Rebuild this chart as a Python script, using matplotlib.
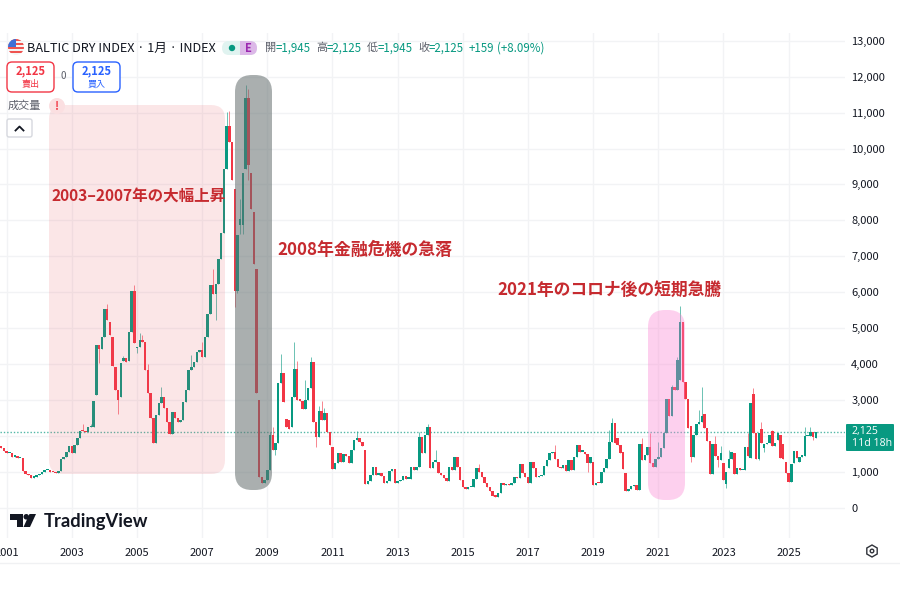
import matplotlib
matplotlib.use('Agg')
import matplotlib.pyplot as plt
from matplotlib.patches import FancyBboxPatch, Circle, Polygon, Rectangle, RegularPolygon
from matplotlib.transforms import IdentityTransform

plt.rcParams['font.family'] = ['Noto Sans CJK JP', 'DejaVu Sans']

# monthly closes of the Baltic Dry Index, Nov 2000 to Nov 2025
closes_2000 = [1657, 1583]
closes_2001 = [1518, 1518, 1425, 1444, 1379, 1379, 1036, 934, 915, 841, 869, 915]
closes_2002 = [943, 1008, 1054, 1054, 1008, 989, 961, 1026, 1351, 1425, 1564, 1722]
closes_2003 = [1518, 1750, 1935, 2139, 2130, 2111, 2240, 2259, 2982, 4530, 4410, 4744]
closes_2004 = [5532, 5226, 4809, 3946, 3279, 3001, 4039, 4178, 4067, 4901, 6050, 4577]
closes_2005 = [4465, 4670, 4623, 3835, 3205, 2510, 1796, 2584, 2908, 3094, 2769, 2398]
closes_2006 = [2055, 2676, 2491, 2380, 2445, 2936, 3279, 3835, 3909, 4067, 4326, 4391]
closes_2007 = [4206, 4762, 5393, 6215, 5965, 6243, 6938, 7662, 9441, 10618, 10183, 9117]
closes_2008 = [6030, 7587, 8051, 9330, 11407, 9553, 8310, 6800, 3186, 869, 702, 775]
closes_2009 = [1054, 2031, 1611, 1796, 3465, 3743, 2955, 2259, 2185, 3094, 3863, 3001]
closes_2010 = [2982, 2744, 3001, 3344, 4067, 2380, 1981, 2695, 2445, 2649, 2120, 1750]
closes_2011 = [1082, 1258, 1536, 1280, 1490, 1440, 1258, 1611, 1889, 1935, 1840, 1722]
closes_2012 = [665, 749, 915, 1147, 915, 985, 888, 702, 750, 1027, 1075, 700]
closes_2013 = [749, 765, 895, 820, 820, 1147, 1050, 1130, 1981, 1518, 2030, 2260]
closes_2014 = [1100, 1285, 1285, 960, 915, 824, 749, 1148, 1055, 1426, 1129, 777]
closes_2015 = [573, 518, 573, 573, 805, 1120, 1009, 870, 685, 573, 471, 332]
closes_2016 = [314, 406, 685, 638, 666, 638, 703, 851, 823, 1222, 963, 870]
closes_2017 = [685, 1287, 1102, 851, 888, 916, 1166, 1333, 1519, 1565, 1352, 1148]
closes_2018 = [1102, 1194, 1037, 1333, 1055, 1426, 1751, 1565, 1565, 1491, 1241, 1408]
closes_2019 = [638, 688, 685, 1009, 1102, 1352, 1843, 2372, 1797, 1750, 1519, 1074]
closes_2020 = [470, 526, 609, 628, 498, 1777, 1332, 1471, 1703, 1258, 1147, 1351]
closes_2021 = [1407, 1657, 2074, 3029, 2565, 3353, 3279, 4113, 5179, 3511, 3029, 2213]
closes_2022 = [1406, 2028, 2333, 2398, 2556, 2213, 1870, 943, 1777, 1453, 1332, 1518]
closes_2023 = [776, 990, 1351, 1564, 943, 1101, 1054, 1054, 1703, 1444, 2908, 2092]
closes_2024 = [1351, 2092, 1796, 1777, 1796, 2028, 1731, 1796, 2074, 1379, 1360, 980]
closes_2025 = [730, 1212, 1583, 1379, 1425, 1444, 2000, 2000, 2120, 1966, 2125]

# months whose open is not the previous close
open_gaps = {
    (2003, 10): 3131, (2004, 3): 5179, (2004, 4): 4744, (2004, 5): 3909, (2004, 7): 3094,
    (2004, 8): 4085, (2004, 10): 4095, (2005, 1): 4438, (2008, 1): 8867, (2008, 3): 7866,
    (2008, 4): 7866, (2008, 5): 9423, (2008, 7): 9330, (2008, 8): 8236, (2008, 9): 6660,
    (2008, 10): 3001, (2009, 8): 2473, (2009, 9): 2445, (2009, 10): 2260, (2011, 1): 1685,
    (2012, 1): 1611, (2019, 1): 1268, (2019, 10): 1936, (2019, 12): 1565, (2020, 1): 962,
    (2021, 9): 3557, (2022, 1): 2278, (2022, 2): 1425, (2022, 6): 2612, (2022, 8): 1861,
    (2023, 1): 1240, (2023, 2): 665, (2023, 3): 1101, (2023, 5): 1536, (2023, 11): 1379,
    (2023, 12): 3168, (2024, 3): 2185, (2024, 4): 1675, (2024, 7): 2148, (2024, 9): 1889,
    (2024, 10): 2028, (2024, 11): 1777, (2024, 12): 1268, (2025, 3): 1240, (2025, 5): 1268,
    (2025, 11): 1945,
}
wick_highs = {
    (2003, 5): 2333, (2003, 8): 2324, (2004, 2): 5671, (2004, 8): 4225, (2004, 12): 6208,
    (2005, 2): 4855, (2005, 3): 4809, (2005, 5): 3999, (2005, 10): 3353, (2006, 9): 4252,
    (2007, 1): 4623, (2007, 5): 6660, (2007, 10): 11017, (2007, 11): 11039, (2008, 3): 8607,
    (2008, 5): 11759, (2008, 6): 11666, (2009, 2): 2120, (2009, 3): 2260, (2009, 6): 4280,
    (2009, 11): 4623, (2009, 12): 4095, (2010, 3): 3557, (2010, 5): 4206, (2010, 8): 2834,
    (2010, 9): 2973, (2010, 10): 2769, (2011, 10): 2148, (2013, 9): 2120, (2013, 12): 2324,
    (2014, 3): 1610, (2015, 7): 1213, (2017, 11): 1751, (2019, 7): 2168, (2019, 8): 2492,
    (2020, 7): 1935, (2020, 10): 2093, (2021, 1): 1842, (2021, 6): 3418, (2021, 8): 4206,
    (2021, 9): 5624, (2022, 4): 2723, (2022, 5): 3353, (2022, 10): 2000, (2022, 12): 1722,
    (2023, 3): 1610, (2023, 10): 2093, (2023, 12): 3325, (2024, 3): 2398, (2024, 7): 2167,
    (2025, 7): 2260, (2025, 9): 2240, (2025, 10): 2120,
}
wick_lows = {
    (2003, 11): 4021, (2004, 6): 2611, (2005, 1): 4299, (2007, 6): 5226, (2008, 1): 5594,
    (2008, 2): 5984, (2008, 3): 7634, (2008, 4): 7634, (2008, 6): 9117, (2009, 4): 1472,
    (2010, 7): 1703, (2018, 11): 1009, (2022, 1): 1286, (2022, 11): 1147, (2023, 2): 544,
    (2024, 2): 1332, (2024, 4): 1564, (2025, 10): 1889,
}

closes = (closes_2000 + closes_2001 + closes_2002 + closes_2003 + closes_2004 + closes_2005 + closes_2006
          + closes_2007 + closes_2008 + closes_2009 + closes_2010 + closes_2011 + closes_2012 + closes_2013
          + closes_2014 + closes_2015 + closes_2016 + closes_2017 + closes_2018 + closes_2019 + closes_2020
          + closes_2021 + closes_2022 + closes_2023 + closes_2024 + closes_2025)

year_ticks = [2001, 2003, 2005, 2007, 2009, 2011, 2013, 2015, 2017, 2019, 2021, 2023, 2025]
price_ticks = [0, 1000, 2000, 3000, 4000, 5000, 6000, 7000, 8000, 9000, 10000, 11000, 12000, 13000]

last_price = 2125
UP = '#089981'
DOWN = '#f23645'
GREY = '#5d606b'
DARK = '#131722'
NOTE_RED = '#c62a2f'

W, H = 900, 600
fig = plt.figure(figsize=(9, 6), dpi=100)
# the plot pane, placed in pixels
left, right, top, bottom = 0, 845, 33, 538
ax = fig.add_axes([left / W, 1 - bottom / H, (right - left) / W, (bottom - top) / H])
month_px = 2.715
zero_px = 6.7
price_scale = 35.95 / 1000
ax.set_xlim((left - zero_px) / month_px, (right - zero_px) / month_px)
ax.set_ylim((508 - bottom) / price_scale, (508 - top) / price_scale)

for spine in ax.spines.values():
    spine.set_visible(False)
ax.set_axisbelow(True)
ax.grid(True, color='#f2f3f5', linewidth=1)
ax.set_xticks([(y - 2001) * 12 for y in year_ticks])
ax.set_xticklabels([str(y) for y in year_ticks])
ax.set_yticks(price_ticks)
# the price tag sits where the 2,000 label would go
ax.set_yticklabels(['' if p == 2000 else f'{p:,}' for p in price_ticks])
ax.yaxis.tick_right()
ax.tick_params(axis='both', length=0, labelsize=8, labelcolor=DARK)
ax.tick_params(axis='x', pad=7.5)
ax.tick_params(axis='y', pad=4.5)

# candles, first one is Nov 2000
year, month = 2000, 11
prev_close = 1730
for i, close in enumerate(closes):
    n = i - 2
    key = (year, month)
    op = open_gaps.get(key, prev_close)
    hi = wick_highs.get(key, max(op, close))
    lo = wick_lows.get(key, min(op, close))
    color = UP if close >= op else DOWN
    ax.vlines(n, lo, hi, color=color, linewidth=0.7, alpha=0.6, zorder=3)
    body = abs(close - op)
    ax.bar(n, max(body, 40), bottom=min(op, close), width=0.9, color=color, linewidth=0, zorder=4)
    prev_close = close
    month += 1
    if month > 12:
        year, month = year + 1, 1

ax.axhline(last_price, color=UP, linewidth=1, linestyle=(0, (1, 1.4)), alpha=0.7, zorder=2)


def px_text(x, y, s, **kw):
    kw.setdefault('va', 'center')
    kw.setdefault('ha', 'left')
    return fig.text(x / W, 1 - y / H, s, **kw)


def px_box(x0, y0, x1, y1, radius, **kw):
    box = FancyBboxPatch((x0 + radius, H - y1 + radius), x1 - x0 - 2 * radius, y1 - y0 - 2 * radius,
                         boxstyle=f'round,pad={radius},rounding_size={radius}',
                         transform=IdentityTransform(), **kw)
    fig.add_artist(box)
    return box


# highlighted periods sit over the candles
px_box(49, 105, 225, 474, 14, facecolor='#e8505b', edgecolor='none', alpha=0.14, zorder=6)
px_box(235, 75, 272, 490, 17, facecolor='#646e6e', edgecolor='none', alpha=0.55, zorder=6)
px_box(648, 310, 685, 500, 17, facecolor='#fb7fd0', edgecolor='none', alpha=0.36, zorder=6)

px_text(51, 196, '2003–2007年の大幅上昇', fontsize=11.2, fontweight='bold', color=NOTE_RED, zorder=8)
px_text(277, 250, '2008年金融危機の急落', fontsize=12.2, fontweight='bold', color=NOTE_RED, zorder=8)
px_text(497, 290, '2021年のコロナ後の短期急騰', fontsize=12.1, fontweight='bold', color=NOTE_RED, zorder=8)

# last price tag
px_box(846, 424, 894, 451, 1, facecolor=UP, edgecolor='none', zorder=8)
px_text(852, 437.5, '2,125\n11d 18h', fontsize=7.6, color='white', linespacing=1.1,
        family=['Open Sans', 'DejaVu Sans'], zorder=9)

# flag in the header
flag_clip = Circle((16, H - 47), 8, transform=IdentityTransform())
fig.add_artist(Circle((16, H - 47), 8, transform=IdentityTransform(), facecolor='#f4f4f4', edgecolor='none', zorder=8))
for stripe_y in [39, 43, 47, 51]:
    r = Rectangle((8, H - stripe_y - 2), 16, 2, transform=IdentityTransform(), facecolor='#ef5350', zorder=9)
    fig.add_artist(r)
    r.set_clip_path(flag_clip)
canton = Rectangle((8, H - 47), 8, 8, transform=IdentityTransform(), facecolor='#3f6fd8', zorder=10)
fig.add_artist(canton)
canton.set_clip_path(flag_clip)

px_text(27, 48, 'BALTIC DRY INDEX · 1月 · INDEX', fontsize=9.1, color=DARK)

# status pill
px_box(222, 41, 257, 55, 7, facecolor='#e0f3f0', edgecolor='none', zorder=8)
px_box(240, 41, 257, 55, 7, facecolor='#dcb8e8', edgecolor='none', zorder=8)
fig.add_artist(Rectangle((240, H - 55), 6, 14, transform=IdentityTransform(), facecolor='#dcb8e8', edgecolor='none', zorder=8))
fig.add_artist(Circle((232, H - 48), 3.2, transform=IdentityTransform(), facecolor=UP, edgecolor='none', zorder=9))
px_text(248, 48, 'E', fontsize=8, fontweight='bold', color='#9c27b0', ha='center', zorder=9)

tc = ['Noto Sans CJK TC', 'DejaVu Sans']
for x, label, value in [(265, '開', '=1,945'), (316, '高', '=2,125'), (367, '低', '=1,945'), (418, '收', '=2,125')]:
    px_text(x, 48, label, fontsize=8, color=GREY, family=tc)
    px_text(x + 11, 48, value, fontsize=8.3, color=UP)
px_text(469, 48, '+159', fontsize=8.3, color=UP)
px_text(497, 48, '(+8.09%)', fontsize=8.3, color=UP)

# sell / buy buttons
px_box(7, 62, 54, 92, 5, facecolor='white', edgecolor=DOWN, linewidth=1, zorder=8)
px_text(30.5, 71, '2,125', fontsize=8, fontweight='bold', color=DOWN, ha='center', zorder=9)
px_text(30.5, 84, '賣出', fontsize=6.5, color=DOWN, ha='center', family=tc, zorder=9)
px_text(63, 76, '0', fontsize=7, color=GREY, ha='center')
px_box(73, 62, 120, 92, 5, facecolor='white', edgecolor='#2962ff', linewidth=1, zorder=8)
px_text(96.5, 71, '2,125', fontsize=8, fontweight='bold', color='#2962ff', ha='center', zorder=9)
px_text(96.5, 84, '買入', fontsize=6.5, color='#2962ff', ha='center', family=tc, zorder=9)

px_text(8, 106, '成交量', fontsize=8, color=GREY, family=tc, zorder=9)
fig.add_artist(Circle((57, H - 106), 8, transform=IdentityTransform(), facecolor='#fbdfe1', edgecolor='none', zorder=8))
px_text(57, 106, '!', fontsize=8, fontweight='bold', color=DOWN, ha='center', zorder=9)

px_box(7, 119, 32, 137, 2, facecolor='white', edgecolor='#d6d8de', linewidth=1, zorder=8)
fig.add_artist(plt.Line2D([15.5, 19.5, 23.5], [H - 130.5, H - 126.5, H - 130.5], transform=IdentityTransform(),
                          color=DARK, linewidth=1.3, zorder=9))

# TradingView mark and wordmark
logo = [Polygon([(10, H - 514), (23, H - 514), (23, H - 527), (17, H - 527), (17, H - 519.5), (10, H - 519.5)]),
        Polygon([(29.5, H - 514), (36, H - 514), (30, H - 527), (23.5, H - 527)])]
for part in logo:
    part.set_transform(IdentityTransform())
    part.set(facecolor='#131722', edgecolor='none', zorder=9)
    fig.add_artist(part)
fig.add_artist(Circle((26.3, H - 516.8), 2.8, transform=IdentityTransform(), facecolor='#131722', edgecolor='none', zorder=9))
px_text(44, 521, 'TradingView', fontsize=13.2, fontweight='bold', color='#131722', family=['Lato', 'DejaVu Sans'], zorder=9)

# settings icon on the corner of the axes
fig.add_artist(RegularPolygon((872, H - 551), 6, radius=6, transform=IdentityTransform(), facecolor='white',
                              edgecolor='#30333a', linewidth=1, zorder=9))
fig.add_artist(Circle((872, H - 551), 1.8, transform=IdentityTransform(), facecolor='white',
                      edgecolor='#30333a', linewidth=1, zorder=10))

fig.add_artist(plt.Line2D([0, W], [H - 563, H - 563], transform=IdentityTransform(), color='#f0f1f3', linewidth=1))

fig.savefig('out.png', dpi=100)
